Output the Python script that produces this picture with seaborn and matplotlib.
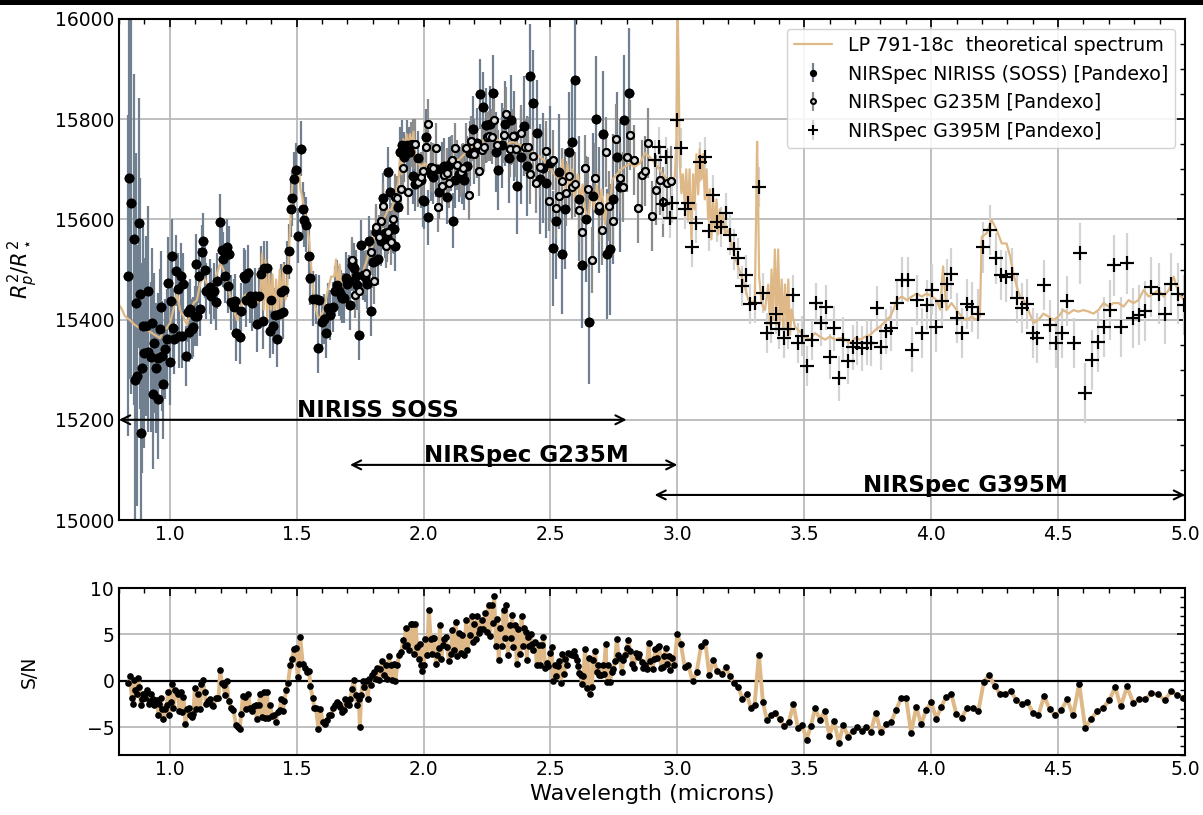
import numpy as np
import matplotlib
matplotlib.use("Agg")
import matplotlib.pyplot as plt
import seaborn as sns
from matplotlib.ticker import MultipleLocator
from matplotlib.patches import Rectangle

# ---------------- theoretical spectrum ----------------
theo_wl = [
    0.800, 0.810, 0.823, 0.843, 0.863, 0.883, 0.902, 0.922, 0.942, 0.962,
    0.975, 0.988, 1.001, 1.014, 1.028, 1.041, 1.054, 1.067, 1.080, 1.094,
    1.107, 1.120, 1.133, 1.146, 1.160, 1.173, 1.186, 1.199, 1.212, 1.225,
    1.239, 1.252, 1.265, 1.278, 1.291, 1.305, 1.318, 1.331, 1.344, 1.357,
    1.364, 1.370, 1.377, 1.384, 1.391, 1.398, 1.405, 1.412, 1.419, 1.426,
    1.433, 1.440, 1.447, 1.456, 1.463, 1.476, 1.483, 1.496, 1.509, 1.515,
    1.522, 1.535, 1.549, 1.560, 1.570, 1.583, 1.592, 1.606, 1.623, 1.636,
    1.649, 1.655, 1.662, 1.669, 1.676, 1.689, 1.702, 1.715, 1.728, 1.741,
    1.755, 1.768, 1.781, 1.794, 1.807, 1.821, 1.834, 1.847, 1.860, 1.873,
    1.887, 1.900, 1.907, 1.913, 1.920, 1.926, 1.933, 1.939, 1.946, 1.953,
    1.960, 1.966, 1.979, 1.992, 2.005, 2.018, 2.032, 2.045, 2.058, 2.071,
    2.084, 2.098, 2.111, 2.124, 2.137, 2.150, 2.164, 2.177, 2.190, 2.203,
    2.216, 2.230, 2.243, 2.256, 2.269, 2.282, 2.295, 2.302, 2.329, 2.355,
    2.381, 2.407, 2.433, 2.459, 2.486, 2.512, 2.538, 2.548, 2.558, 2.567,
    2.577, 2.587, 2.597, 2.607, 2.617, 2.627, 2.636, 2.649, 2.662, 2.672,
    2.682, 2.692, 2.702, 2.715, 2.725, 2.734, 2.744, 2.754, 2.774, 2.793,
    2.813, 2.832, 2.852, 2.872, 2.891, 2.911, 2.931, 2.950, 2.970, 2.990,
    2.996, 3.000, 3.005, 3.009, 3.016, 3.022, 3.029, 3.035, 3.042, 3.048,
    3.055, 3.062, 3.068, 3.075, 3.082, 3.088, 3.095, 3.101, 3.108, 3.115,
    3.121, 3.128, 3.134, 3.141, 3.147, 3.154, 3.160, 3.167, 3.174, 3.180,
    3.187, 3.200, 3.213, 3.226, 3.239, 3.253, 3.266, 3.279, 3.292, 3.305,
    3.310, 3.314, 3.318, 3.322, 3.332, 3.345, 3.358, 3.364, 3.371, 3.377,
    3.384, 3.391, 3.397, 3.404, 3.411, 3.417, 3.424, 3.431, 3.437, 3.444,
    3.450, 3.463, 3.476, 3.489, 3.503, 3.522, 3.542, 3.562, 3.582, 3.601,
    3.621, 3.641, 3.661, 3.680, 3.700, 3.720, 3.740, 3.759, 3.779, 3.799,
    3.818, 3.838, 3.851, 3.864, 3.884, 3.904, 3.924, 3.943, 3.963, 3.983,
    4.003, 4.022, 4.035, 4.047, 4.060, 4.080, 4.100, 4.120, 4.139, 4.159,
    4.179, 4.192, 4.199, 4.218, 4.238, 4.258, 4.278, 4.297, 4.311, 4.324,
    4.337, 4.350, 4.363, 4.383, 4.403, 4.422, 4.442, 4.462, 4.482, 4.501,
    4.521, 4.541, 4.561, 4.580, 4.600, 4.620, 4.639, 4.659, 4.679, 4.699,
    4.718, 4.738, 4.758, 4.778, 4.797, 4.817, 4.837, 4.857, 4.876, 4.896,
    4.916, 4.936, 4.955, 4.975, 4.995,
]
theo_val = [
    15429, 15422, 15407, 15399, 15389, 15383, 15379, 15376, 15369, 15363,
    15379, 15383, 15393, 15419, 15452, 15419, 15406, 15389, 15412, 15433,
    15439, 15472, 15486, 15472, 15466, 15472, 15492, 15512, 15499, 15472,
    15446, 15419, 15399, 15419, 15446, 15452, 15446, 15439, 15433, 15452,
    15532, 15420, 15520, 15400, 15500, 15420, 15490, 15400, 15480, 15410,
    15500, 15420, 15510, 15440, 15470, 15605, 15672, 15685, 15698, 15660,
    15645, 15605, 15559, 15486, 15433, 15406, 15403, 15419, 15459, 15486,
    15486, 15520, 15455, 15510, 15470, 15466, 15479, 15486, 15486, 15492,
    15486, 15506, 15526, 15539, 15565, 15579, 15592, 15605, 15619, 15619,
    15645, 15672, 15720, 15690, 15760, 15730, 15770, 15735, 15770, 15750,
    15775, 15730, 15712, 15705, 15712, 15705, 15705, 15698, 15702, 15705,
    15712, 15712, 15718, 15718, 15718, 15725, 15732, 15738, 15745, 15751,
    15758, 15751, 15765, 15761, 15765, 15761, 15758, 15751, 15751, 15755,
    15748, 15745, 15732, 15725, 15712, 15692, 15678, 15720, 15660, 15710,
    15650, 15700, 15640, 15690, 15640, 15670, 15620, 15600, 15665, 15620,
    15668, 15630, 15660, 15590, 15650, 15630, 15680, 15685, 15698, 15705,
    15712, 15705, 15712, 15732, 15725, 15712, 15698, 15685, 15672, 15685,
    15760, 16060, 15900, 15718, 15652, 15690, 15630, 15700, 15600, 15700,
    15560, 15690, 15620, 15730, 15650, 15740, 15680, 15730, 15640, 15700,
    15600, 15660, 15560, 15640, 15580, 15640, 15570, 15620, 15580, 15610,
    15570, 15579, 15552, 15526, 15506, 15486, 15466, 15439, 15433, 15439,
    15600, 15755, 15650, 15486, 15433, 15419, 15470, 15390, 15500, 15400,
    15540, 15390, 15540, 15390, 15480, 15380, 15470, 15380, 15480, 15370,
    15420, 15386, 15379, 15373, 15366, 15360, 15373, 15366, 15360, 15366,
    15360, 15363, 15360, 15353, 15363, 15360, 15366, 15369, 15379, 15386,
    15396, 15406, 15419, 15439, 15446, 15439, 15446, 15452, 15446, 15452,
    15446, 15439, 15420, 15506, 15419, 15433, 15419, 15406, 15399, 15406,
    15399, 15406, 15565, 15572, 15599, 15579, 15552, 15552, 15526, 15492,
    15466, 15446, 15439, 15419, 15393, 15399, 15412, 15406, 15399, 15406,
    15419, 15412, 15419, 15416, 15419, 15416, 15412, 15419, 15433, 15426,
    15433, 15433, 15426, 15439, 15433, 15439, 15459, 15446, 15452, 15459,
    15446, 15459, 15486, 15452, 15439,
]

# ---------------- NIRISS SOSS ----------------
soss_wl = [
    0.836, 0.839, 0.846, 0.859, 0.863, 0.867, 0.872, 0.879, 0.881, 0.885,
    0.892, 0.896, 0.900, 0.906, 0.913, 0.916, 0.925, 0.931, 0.934, 0.939,
    0.944, 0.953, 0.955, 0.962, 0.964, 0.971, 0.975, 0.982, 0.988, 0.992,
    0.999, 1.003, 1.008, 1.013, 1.018, 1.024, 1.032, 1.037, 1.044, 1.047,
    1.053, 1.063, 1.070, 1.074, 1.080, 1.086, 1.091, 1.100, 1.103, 1.109,
    1.114, 1.120, 1.127, 1.132, 1.139, 1.143, 1.157, 1.164, 1.173, 1.181,
    1.186, 1.199, 1.206, 1.211, 1.219, 1.224, 1.230, 1.232, 1.240, 1.252,
    1.258, 1.262, 1.276, 1.282, 1.291, 1.298, 1.301, 1.308, 1.315, 1.324,
    1.334, 1.344, 1.351, 1.360, 1.368, 1.373, 1.384, 1.394, 1.397, 1.408,
    1.413, 1.423, 1.430, 1.437, 1.446, 1.452, 1.462, 1.470, 1.476, 1.482,
    1.488, 1.497, 1.506, 1.516, 1.524, 1.529, 1.538, 1.549, 1.551, 1.566,
    1.577, 1.583, 1.587, 1.599, 1.606, 1.615, 1.623, 1.632, 1.643, 1.650,
    1.658, 1.666, 1.674, 1.680, 1.686, 1.693, 1.700, 1.705, 1.710, 1.718,
    1.724, 1.732, 1.737, 1.745, 1.755, 1.761, 1.770, 1.777, 1.784, 1.793,
    1.799, 1.810, 1.814, 1.821, 1.831, 1.840, 1.847, 1.854, 1.860, 1.868,
    1.876, 1.884, 1.889, 1.900, 1.909, 1.915, 1.922, 1.933, 1.939, 1.946,
    1.959, 1.967, 1.978, 1.988, 1.996, 2.001, 2.009, 2.018, 2.029, 2.038,
    2.047, 2.061, 2.071, 2.080, 2.091, 2.100, 2.107, 2.115, 2.124, 2.141,
    2.153, 2.161, 2.170, 2.181, 2.193, 2.199, 2.210, 2.223, 2.236, 2.246,
    2.262, 2.273, 2.284, 2.293, 2.309, 2.319, 2.335, 2.346, 2.355, 2.370,
    2.383, 2.394, 2.407, 2.420, 2.432, 2.446, 2.459, 2.470, 2.483, 2.499,
    2.508, 2.522, 2.535, 2.547, 2.559, 2.572, 2.584, 2.598, 2.611, 2.626,
    2.639, 2.652, 2.666, 2.679, 2.692, 2.708, 2.721, 2.734, 2.747, 2.762,
    2.774, 2.789, 2.808,
]
soss_val = [
    15488, 15682, 15632, 15560, 15280, 15433, 15288, 15593, 15452, 15173,
    15303, 15387, 15333, 15387, 15457, 15336, 15326, 15393, 15252, 15353,
    15303, 15323, 15241, 15381, 15426, 15328, 15271, 15341, 15362, 15474,
    15315, 15437, 15526, 15384, 15361, 15498, 15462, 15368, 15487, 15368,
    15472, 15327, 15416, 15375, 15422, 15381, 15386, 15407, 15510, 15407,
    15488, 15422, 15534, 15557, 15499, 15457, 15466, 15447, 15457, 15435,
    15477, 15595, 15539, 15520, 15488, 15545, 15468, 15531, 15435, 15426,
    15437, 15373, 15366, 15418, 15488, 15483, 15440, 15493, 15448, 15433,
    15448, 15391, 15448, 15492, 15397, 15502, 15502, 15378, 15440, 15387,
    15409, 15361, 15411, 15456, 15416, 15460, 15501, 15536, 15620, 15642,
    15680, 15698, 15567, 15741, 15620, 15599, 15589, 15527, 15484, 15442,
    15442, 15343, 15439, 15395, 15401, 15373, 15424, 15409, 15426, 15457,
    15469, 15457, 15449, 15444, 15444, 15484, 15472, 15478, 15429, 15508,
    15502, 15488, 15470, 15370, 15548, 15489, 15486, 15472, 15557, 15417,
    15514, 15517, 15575, 15520, 15557, 15642, 15572, 15565, 15695, 15655,
    15582, 15580, 15547, 15625, 15734, 15748, 15725, 15749, 15735, 15735,
    15686, 15671, 15722, 15678, 15639, 15636, 15765, 15604, 15691, 15685,
    15700, 15655, 15700, 15707, 15645, 15709, 15712, 15597, 15678, 15690,
    15691, 15679, 15707, 15732, 15781, 15735, 15753, 15850, 15825, 15788,
    15791, 15853, 15735, 15698, 15748, 15791, 15722, 15799, 15766, 15666,
    15725, 15787, 15706, 15886, 15833, 15773, 15680, 15702, 15672, 15712,
    15542, 15597, 15695, 15531, 15621, 15734, 15755, 15878, 15641, 15508,
    15601, 15396, 15647, 15801, 15619, 15771, 15531, 15540, 15641, 15725,
    15665, 15798, 15852,
]
soss_err = [
    320, 400, 380, 330, 300, 300, 260, 250, 230, 220,
    210, 200, 190, 180, 170, 160, 150, 150, 150, 140,
    130, 130, 120, 120, 110, 110, 110, 100, 100, 90,
    85, 80, 75, 75, 70, 70, 70, 65, 65, 65,
    60, 60, 60, 60, 60, 60, 60, 60, 60, 60,
    55, 55, 55, 55, 55, 55, 55, 55, 55, 55,
    55, 55, 55, 55, 55, 55, 55, 55, 55, 55,
    55, 55, 55, 55, 55, 55, 55, 55, 55, 55,
    55, 55, 55, 55, 55, 55, 55, 55, 55, 55,
    55, 55, 55, 55, 55, 55, 55, 55, 55, 55,
    55, 55, 55, 55, 55, 55, 55, 55, 55, 55,
    50, 50, 50, 50, 50, 50, 50, 50, 50, 50,
    50, 50, 50, 50, 50, 50, 50, 50, 50, 50,
    50, 50, 50, 50, 50, 50, 50, 50, 50, 50,
    50, 50, 50, 50, 50, 50, 50, 50, 50, 50,
    50, 50, 50, 50, 50, 50, 50, 50, 50, 50,
    55, 55, 55, 55, 55, 55, 55, 55, 55, 55,
    55, 55, 55, 55, 55, 55, 55, 55, 55, 55,
    60, 60, 60, 65, 65, 65, 70, 70, 70, 75,
    75, 75, 80, 80, 85, 85, 90, 90, 90, 95,
    95, 100, 100, 105, 105, 105, 110, 110, 110, 115,
    115, 115, 115, 120, 120, 120, 120, 125, 125, 125,
    125, 125, 125, 125, 125, 125, 130, 130, 130, 130,
    130, 130, 130,
]

# ---------------- NIRSpec G235M ----------------
g235_wl = [
    1.718, 1.728, 1.745, 1.772, 1.794, 1.803, 1.814, 1.823, 1.831, 1.840,
    1.851, 1.860, 1.871, 1.880, 1.889, 1.897, 1.910, 1.920, 1.939, 1.950,
    1.959, 1.968, 1.979, 1.988, 1.999, 2.008, 2.017, 2.029, 2.038, 2.047,
    2.058, 2.071, 2.080, 2.091, 2.100, 2.113, 2.124, 2.133, 2.146, 2.157,
    2.167, 2.178, 2.186, 2.199, 2.210, 2.220, 2.230, 2.239, 2.249, 2.256,
    2.269, 2.278, 2.289, 2.315, 2.325, 2.339, 2.352, 2.365, 2.385, 2.398,
    2.410, 2.420, 2.431, 2.444, 2.457, 2.483, 2.496, 2.509, 2.522, 2.535,
    2.546, 2.560, 2.573, 2.585, 2.598, 2.611, 2.624, 2.636, 2.649, 2.662,
    2.677, 2.690, 2.704, 2.717, 2.732, 2.745, 2.760, 2.774, 2.787, 2.800,
    2.815, 2.829, 2.843, 2.859, 2.872, 2.885, 2.901, 2.915, 2.931, 2.944,
    2.959, 2.976,
]
g235_val = [
    15519, 15449, 15458, 15494, 15534, 15477, 15585, 15564, 15597, 15627,
    15547, 15575, 15554, 15601, 15645, 15642, 15660, 15702, 15654, 15750,
    15750, 15751, 15675, 15685, 15696, 15745, 15790, 15704, 15703, 15743,
    15625, 15666, 15688, 15693, 15672, 15718, 15742, 15708, 15695, 15702,
    15743, 15648, 15756, 15730, 15749, 15696, 15739, 15745, 15765, 15766,
    15765, 15798, 15749, 15768, 15810, 15740, 15766, 15740, 15773, 15745,
    15745, 15691, 15726, 15673, 15705, 15736, 15637, 15718, 15622, 15646,
    15677, 15652, 15686, 15665, 15670, 15619, 15574, 15703, 15660, 15519,
    15682, 15627, 15579, 15734, 15626, 15597, 15761, 15682, 15665, 15725,
    15768, 15718, 15623, 15688, 15696, 15753, 15606, 15658, 15678, 15635,
    15672, 15677,
]
g235_err = [
    45, 45, 45, 45, 45, 45, 45, 45, 45, 45,
    45, 45, 45, 45, 45, 45, 45, 45, 45, 45,
    50, 50, 50, 50, 50, 50, 50, 50, 50, 50,
    50, 50, 50, 50, 50, 50, 50, 50, 50, 50,
    50, 50, 50, 50, 50, 50, 50, 50, 50, 50,
    55, 55, 55, 55, 55, 55, 55, 55, 55, 55,
    60, 60, 60, 60, 60, 60, 60, 60, 60, 60,
    65, 65, 65, 65, 65, 65, 65, 65, 65, 65,
    70, 70, 70, 70, 70, 70, 70, 70, 70, 70,
    70, 70, 70, 70, 70, 70, 70, 70, 70, 70,
    70, 70,
]

# ---------------- NIRSpec G395M ----------------
g395_wl = [
    2.911, 2.928, 2.944, 2.957, 2.970, 2.980, 3.000, 3.013, 3.029, 3.042,
    3.059, 3.075, 3.091, 3.108, 3.125, 3.142, 3.158, 3.171, 3.191, 3.207,
    3.222, 3.239, 3.255, 3.272, 3.286, 3.304, 3.321, 3.337, 3.354, 3.368,
    3.387, 3.401, 3.420, 3.434, 3.454, 3.476, 3.492, 3.509, 3.530, 3.546,
    3.564, 3.584, 3.601, 3.617, 3.638, 3.654, 3.674, 3.691, 3.709, 3.726,
    3.746, 3.762, 3.786, 3.803, 3.822, 3.841, 3.864, 3.884, 3.908, 3.924,
    3.946, 3.963, 3.983, 4.004, 4.020, 4.041, 4.061, 4.080, 4.102, 4.122,
    4.141, 4.159, 4.185, 4.203, 4.232, 4.255, 4.274, 4.294, 4.318, 4.340,
    4.358, 4.379, 4.400, 4.418, 4.446, 4.468, 4.492, 4.515, 4.534, 4.563,
    4.587, 4.607, 4.633, 4.659, 4.679, 4.705, 4.722, 4.749, 4.772, 4.796,
    4.819, 4.842, 4.866, 4.896, 4.922, 4.945, 4.971, 4.997,
]
g395_val = [
    15718, 15745, 15630, 15725, 15602, 15632, 15799, 15742, 15621, 15632,
    15545, 15592, 15714, 15725, 15576, 15649, 15595, 15585, 15612, 15569,
    15540, 15522, 15467, 15489, 15432, 15434, 15665, 15454, 15373, 15393,
    15411, 15381, 15363, 15381, 15449, 15354, 15367, 15308, 15360, 15433,
    15393, 15425, 15326, 15383, 15283, 15360, 15317, 15345, 15354, 15343,
    15354, 15353, 15423, 15345, 15377, 15383, 15433, 15480, 15480, 15340,
    15440, 15373, 15429, 15460, 15386, 15438, 15471, 15492, 15403, 15374,
    15431, 15426, 15411, 15544, 15579, 15522, 15489, 15486, 15492, 15444,
    15424, 15431, 15374, 15363, 15469, 15389, 15354, 15373, 15438, 15354,
    15532, 15254, 15320, 15356, 15385, 15420, 15508, 15385, 15512, 15403,
    15409, 15417, 15465, 15452, 15412, 15472, 15452, 15429,
]
g395_err = [
    40, 40, 40, 40, 40, 40, 40, 40, 40, 40,
    40, 40, 40, 40, 40, 40, 40, 40, 40, 40,
    40, 40, 40, 40, 40, 40, 40, 40, 40, 40,
    40, 40, 40, 40, 40, 40, 40, 40, 40, 40,
    45, 45, 45, 45, 45, 45, 45, 45, 45, 45,
    45, 45, 45, 45, 45, 45, 45, 45, 45, 45,
    50, 50, 50, 50, 50, 50, 50, 50, 50, 50,
    50, 50, 50, 50, 50, 50, 50, 50, 50, 50,
    50, 50, 50, 50, 50, 50, 50, 50, 50, 50,
    60, 60, 60, 60, 60, 60, 60, 60, 60, 60,
    60, 60, 60, 60, 60, 60, 60, 60,
]

# ---------------- S/N panel ----------------
sn_wl = [
    0.837, 0.843, 0.851, 0.857, 0.861, 0.864, 0.870, 0.876, 0.880, 0.886,
    0.891, 0.896, 0.901, 0.907, 0.912, 0.917, 0.922, 0.928, 0.933, 0.938,
    0.943, 0.949, 0.955, 0.959, 0.964, 0.970, 0.975, 0.982, 0.988, 0.993,
    0.997, 1.004, 1.009, 1.014, 1.021, 1.028, 1.032, 1.038, 1.043, 1.049,
    1.054, 1.062, 1.067, 1.075, 1.080, 1.087, 1.093, 1.099, 1.104, 1.113,
    1.120, 1.125, 1.130, 1.137, 1.143, 1.150, 1.159, 1.166, 1.172, 1.183,
    1.192, 1.199, 1.205, 1.212, 1.218, 1.225, 1.232, 1.242, 1.251, 1.261,
    1.268, 1.275, 1.282, 1.288, 1.295, 1.301, 1.309, 1.317, 1.324, 1.330,
    1.338, 1.343, 1.350, 1.357, 1.363, 1.370, 1.376, 1.383, 1.389, 1.396,
    1.403, 1.409, 1.418, 1.425, 1.433, 1.439, 1.446, 1.451, 1.459, 1.466,
    1.475, 1.482, 1.488, 1.496, 1.504, 1.511, 1.514, 1.524, 1.532, 1.541,
    1.549, 1.554, 1.563, 1.570, 1.576, 1.586, 1.593, 1.603, 1.611, 1.620,
    1.628, 1.636, 1.643, 1.651, 1.658, 1.665, 1.672, 1.679, 1.685, 1.692,
    1.699, 1.705, 1.712, 1.718, 1.725, 1.732, 1.738, 1.745, 1.749, 1.754,
    1.761, 1.767, 1.774, 1.780, 1.786, 1.791, 1.797, 1.804, 1.811, 1.817,
    1.824, 1.830, 1.837, 1.843, 1.850, 1.857, 1.863, 1.870, 1.876, 1.883,
    1.889, 1.896, 1.903, 1.912, 1.920, 1.925, 1.930, 1.936, 1.943, 1.949,
    1.955, 1.962, 1.968, 1.975, 1.982, 1.986, 1.991, 1.995, 2.001, 2.005,
    2.014, 2.021, 2.028, 2.032, 2.037, 2.043, 2.049, 2.054, 2.061, 2.064,
    2.070, 2.075, 2.080, 2.087, 2.093, 2.100, 2.107, 2.113, 2.120, 2.126,
    2.133, 2.139, 2.146, 2.151, 2.160, 2.168, 2.173, 2.181, 2.190, 2.194,
    2.199, 2.205, 2.210, 2.217, 2.223, 2.230, 2.236, 2.243, 2.249, 2.256,
    2.262, 2.269, 2.273, 2.278, 2.286, 2.291, 2.296, 2.302, 2.308, 2.315,
    2.322, 2.325, 2.332, 2.339, 2.344, 2.349, 2.354, 2.361, 2.367, 2.374,
    2.381, 2.386, 2.391, 2.396, 2.402, 2.407, 2.412, 2.417, 2.423, 2.428,
    2.433, 2.440, 2.446, 2.453, 2.459, 2.466, 2.472, 2.479, 2.486, 2.492,
    2.499, 2.505, 2.510, 2.517, 2.522, 2.529, 2.534, 2.541, 2.547, 2.554,
    2.559, 2.564, 2.571, 2.577, 2.584, 2.591, 2.597, 2.604, 2.610, 2.614,
    2.619, 2.625, 2.630, 2.636, 2.643, 2.650, 2.654, 2.663, 2.669, 2.676,
    2.682, 2.689, 2.693, 2.698, 2.705, 2.709, 2.718, 2.722, 2.728, 2.735,
    2.741, 2.748, 2.755, 2.761, 2.768, 2.774, 2.781, 2.787, 2.793, 2.800,
    2.807, 2.814, 2.823, 2.829, 2.836, 2.844, 2.850, 2.860, 2.866, 2.874,
    2.879, 2.887, 2.892, 2.902, 2.908, 2.913, 2.919, 2.925, 2.929, 2.936,
    2.942, 2.949, 2.954, 2.961, 2.966, 2.971, 2.980, 2.987, 3.000, 3.014,
    3.029, 3.043, 3.060, 3.076, 3.093, 3.110, 3.126, 3.142, 3.157, 3.175,
    3.190, 3.207, 3.223, 3.240, 3.256, 3.273, 3.289, 3.304, 3.321, 3.337,
    3.353, 3.370, 3.386, 3.403, 3.420, 3.439, 3.457, 3.475, 3.492, 3.509,
    3.526, 3.543, 3.561, 3.580, 3.599, 3.617, 3.636, 3.654, 3.672, 3.691,
    3.708, 3.726, 3.743, 3.762, 3.782, 3.801, 3.822, 3.842, 3.862, 3.882,
    3.901, 3.921, 3.941, 3.961, 3.980, 4.000, 4.020, 4.039, 4.059, 4.079,
    4.099, 4.120, 4.141, 4.164, 4.186, 4.207, 4.228, 4.250, 4.271, 4.292,
    4.314, 4.336, 4.358, 4.379, 4.401, 4.422, 4.445, 4.467, 4.489, 4.512,
    4.536, 4.559, 4.583, 4.607, 4.630, 4.654, 4.678, 4.701, 4.725, 4.747,
    4.772, 4.796, 4.820, 4.843, 4.868, 4.895, 4.920, 4.945, 4.970, 4.993,
]
sn_val = [
    -0.25, 0.47, -1.83, -2.45, 0.04, -1.04, -1.40, 0.32, -0.68, -2.66,
    -1.94, -1.40, -1.83, -1.29, -1.04, -2.48, -2.23, -1.40, -1.94, -2.59,
    -2.30, -2.12, -3.74, -2.48, -1.83, -3.02, -4.10, -3.09, -2.66, -1.22,
    -3.74, -2.30, -0.40, -2.95, -0.97, -1.22, -1.47, -3.31, -1.22, -3.38,
    -1.76, -4.64, -3.02, -2.91, -3.74, -3.92, -3.56, -0.79, -3.09, -1.40,
    -3.09, -0.40, 0.11, -1.22, -2.48, -2.23, -2.01, -2.59, -2.73, -1.83,
    -1.83, 1.19, -0.25, -0.50, -1.58, -0.07, -2.19, -2.95, -3.13, -4.82,
    -5.00, -5.18, -3.56, -1.65, -1.76, -3.02, -1.47, -2.91, -3.31, -2.77,
    -2.66, -4.17, -2.59, -1.47, -3.92, -1.22, -3.99, -1.22, -3.99, -2.66,
    -3.81, -3.74, -4.46, -3.38, -3.20, -2.01, -3.31, -2.23, -0.97, -0.22,
    1.65, 2.30, 3.45, 3.53, 0.40, 1.83, 4.71, 1.83, 1.40, 0.94,
    1.04, -0.58, -1.83, -2.95, -2.95, -5.25, -3.02, -4.46, -4.64, -4.28,
    -3.74, -3.67, -2.95, -2.66, -2.30, -2.48, -2.84, -3.38, -3.20, -1.94,
    -2.48, -2.66, -1.94, -0.86, 0.04, -1.58, -2.66, -2.01, -5.00, -1.58,
    -0.07, -0.68, -0.07, -2.01, 0.14, -0.50, 0.58, 0.94, 0.22, 1.37,
    0.04, 1.29, 2.09, 0.58, 1.73, 0.22, 2.63, 1.73, 0.04, 1.83,
    -0.07, 1.65, 2.73, 3.09, 4.35, 3.74, 5.68, 3.81, 3.35, 6.15,
    6.15, 2.91, 6.15, 3.63, 2.37, 3.99, 1.73, 1.01, 1.65, 4.53,
    2.73, 7.59, 4.53, 2.84, 4.64, 4.60, 1.83, 2.80, 3.53, 5.97,
    2.37, 3.81, 4.46, 4.71, 3.63, 2.09, 2.91, 5.50, 3.27, 6.33,
    2.63, 5.14, 2.99, 4.89, 2.73, 6.58, 3.27, 4.96, 6.98, 4.17,
    6.15, 4.46, 6.98, 5.18, 5.61, 6.58, 5.54, 7.30, 5.25, 8.20,
    4.82, 8.13, 6.26, 9.10, 3.74, 6.62, 2.27, 5.68, 3.71, 7.66,
    4.60, 8.13, 2.80, 6.04, 4.60, 7.05, 3.63, 5.97, 1.80, 5.61,
    2.84, 6.98, 3.74, 5.72, 5.25, 2.27, 4.71, 3.74, 5.07, 3.99,
    3.27, 4.17, 1.65, 3.88, 1.73, 3.81, 4.71, 1.40, 1.94, 1.58,
    2.99, 3.63, -0.07, 1.65, 0.47, 1.58, 2.12, -0.22, 2.91, 0.68,
    2.30, 1.73, 3.02, 2.91, 2.73, 3.17, 2.63, 2.27, 1.58, 0.83,
    0.58, -0.40, 0.50, 3.45, -0.76, 2.45, -1.47, -0.68, 2.19, 3.17,
    0.94, 1.65, 0.58, 0.65, 1.65, 0.68, 3.92, -0.14, 1.65, -0.14,
    0.94, 1.22, 2.12, 4.53, 2.73, 2.45, 0.94, 2.19, 2.73, 3.53,
    4.35, 3.17, 1.83, 1.37, 2.99, 2.55, 2.91, 2.01, 1.37, 1.73,
    1.29, 4.10, 2.09, 1.29, 2.37, 3.38, 2.48, 3.63, 3.71, 1.37,
    1.47, 2.63, 3.56, 1.83, 2.66, 1.12, 2.45, 1.65, 5.00, 3.92,
    1.47, 1.73, -0.07, 0.94, 3.71, 4.17, 0.58, 2.27, 1.01, 0.68,
    1.47, 0.50, -0.25, -0.68, -1.94, -1.40, -2.91, -2.66, 2.81, -2.30,
    -4.28, -3.74, -3.49, -4.10, -4.89, -4.46, -2.55, -5.11, -4.82, -6.33,
    -4.89, -2.95, -4.21, -3.31, -5.90, -4.35, -6.69, -4.75, -6.04, -5.36,
    -5.00, -5.40, -5.00, -5.47, -3.45, -5.54, -4.71, -4.46, -3.13, -1.83,
    -1.83, -5.61, -2.84, -4.71, -3.13, -2.30, -4.10, -2.84, -1.76, -1.40,
    -3.56, -3.99, -2.95, -2.95, -3.27, -0.14, 0.65, -0.61, -1.40, -1.40,
    -1.15, -2.12, -2.55, -2.30, -3.45, -3.74, -1.65, -3.09, -3.74, -3.20,
    -2.01, -3.74, -0.32, -5.11, -4.10, -3.31, -2.91, -2.12, -0.68, -2.77,
    -0.61, -2.37, -2.01, -2.01, -1.33, -1.47, -2.12, -1.15, -1.51, -1.83,
]

# ---------------- labels ----------------
label_theo = "LP 791-18c  theoretical spectrum"
label_soss = "NIRSpec NIRISS (SOSS) [Pandexo]"
label_g235 = "NIRSpec G235M [Pandexo]"
label_g395 = "NIRSpec G395M [Pandexo]"
band_names = ["NIRISS SOSS", "NIRSpec G235M", "NIRSpec G395M"]
band_ranges = [(0.8, 2.8), (1.71, 3.0), (2.91, 5.0)]
band_levels = [15200, 15110, 15050]
band_text_x = [1.5, 2.0, 3.73]

# ---------------- styling ----------------
sns.set_theme(style="white")
plt.rcParams["font.family"] = ["DejaVu Sans"]
plt.rcParams["mathtext.fontset"] = "dejavusans"
plt.rcParams["text.color"] = "black"
plt.rcParams["axes.labelcolor"] = "black"
plt.rcParams["xtick.color"] = "black"
plt.rcParams["ytick.color"] = "black"

LINE_C = "#deb887"
SOSS_ECOL = "#708090"
G235_ECOL = "#8c8c8c"
G395_ECOL = "#d3d3d3"

W, H = 1203, 815
fig = plt.figure(figsize=(W / 100, H / 100), dpi=100)
fig.patch.set_facecolor("white")
ax1 = fig.add_axes([119 / W, 1 - 520 / H, 1066 / W, 501 / H])
ax2 = fig.add_axes([119 / W, 1 - 755 / H, 1066 / W, 167 / H])

# top black strip present in the reference
fig.patches.append(Rectangle((0, 1 - 5 / H), 1, 5 / H, transform=fig.transFigure,
                             facecolor="black", edgecolor="none", zorder=10))

# ---- top panel ----
sns.lineplot(x=theo_wl, y=theo_val, ax=ax1, color=LINE_C, lw=1.6,
             estimator=None, sort=False, label=label_theo, zorder=2)

ax1.errorbar(soss_wl, soss_val, yerr=soss_err, fmt="o", color="black", ms=6,
             ecolor=SOSS_ECOL, elinewidth=1.6, capsize=0, zorder=1, label=label_soss)
ax1.errorbar(g235_wl, g235_val, yerr=g235_err, fmt="o", mfc="#dddddd", mec="black",
             mew=1.5, ms=5, ecolor=G235_ECOL, elinewidth=1.6, capsize=0, zorder=1,
             label=label_g235)
ax1.errorbar(g395_wl, g395_val, yerr=g395_err, fmt="+", color="black", ms=10, mew=1.5,
             ecolor=G395_ECOL, elinewidth=1.6, capsize=0, zorder=1, label=label_g395)

# markers drawn again above the model curve
ax1.plot(soss_wl, soss_val, "o", color="black", ms=6, zorder=3)
ax1.plot(g235_wl, g235_val, "o", mfc="#dddddd", mec="black", mew=1.5, ms=5, zorder=3)
ax1.plot(g395_wl, g395_val, "+", color="black", ms=10, mew=1.5, zorder=3)

for name, (x0, x1), lev, tx in zip(band_names, band_ranges, band_levels, band_text_x):
    ax1.annotate("", xy=(x0, lev), xytext=(x1, lev),
                 arrowprops=dict(arrowstyle="<->", color="black", lw=1.5,
                                 shrinkA=0, shrinkB=0, mutation_scale=16),
                 zorder=4)
    ax1.text(tx, lev + 5, name, fontsize=16.5, fontweight="bold", color="black",
             ha="left", va="baseline", zorder=4)

ax1.set_ylim(15000, 16000)
ax1.yaxis.set_major_locator(MultipleLocator(200))
ax1.yaxis.set_minor_locator(MultipleLocator(50))
ax1.set_ylabel(r"$R_p^2/R_\star^2$", fontsize=15, color="black")
ax1.yaxis.set_label_coords(-0.074, 0.5)

handles, labels = ax1.get_legend_handles_labels()
leg = ax1.legend(handles, labels, loc="upper right", fontsize=13.7, frameon=True,
                 framealpha=0.85, edgecolor="#cccccc", fancybox=True,
                 markerscale=0.7, handlelength=2.0, borderpad=0.4)
for t in leg.get_texts():
    t.set_color("black")
leg.set_zorder(6)

# ---- bottom panel ----
ax2.axhline(0, color="black", lw=1.6, zorder=1.5)
sns.lineplot(x=sn_wl, y=sn_val, ax=ax2, color=LINE_C, lw=2.8,
             estimator=None, sort=False, zorder=2)
ax2.plot(sn_wl, sn_val, "o", color="black", ms=3.8, zorder=3)
ax2.set_ylim(-8, 10)
ax2.yaxis.set_major_locator(MultipleLocator(5))
ax2.yaxis.set_minor_locator(MultipleLocator(1))
ax2.set_ylabel("S/N", fontsize=13.5, color="black")
ax2.yaxis.set_label_coords(-0.075, 0.5)
ax2.set_xlabel("Wavelength (microns)", fontsize=16, color="black")

for ax in (ax1, ax2):
    ax.set_xlim(0.8, 5.0)
    ax.xaxis.set_major_locator(MultipleLocator(0.5))
    ax.xaxis.set_minor_locator(MultipleLocator(0.1))
    ax.tick_params(which="both", direction="in", top=True, right=True,
                   colors="black", labelsize=13.5)
    ax.tick_params(which="major", length=6, width=1.2)
    ax.tick_params(which="minor", length=3.5, width=1.0)
    ax.grid(True, which="major", color="#b4b4b4", lw=1.2)
    ax.grid(False, which="minor")
    ax.set_axisbelow(True)
    for s in ax.spines.values():
        s.set_color("black")
        s.set_linewidth(1.5)

fig.savefig("out.png", dpi=100, facecolor="white")
